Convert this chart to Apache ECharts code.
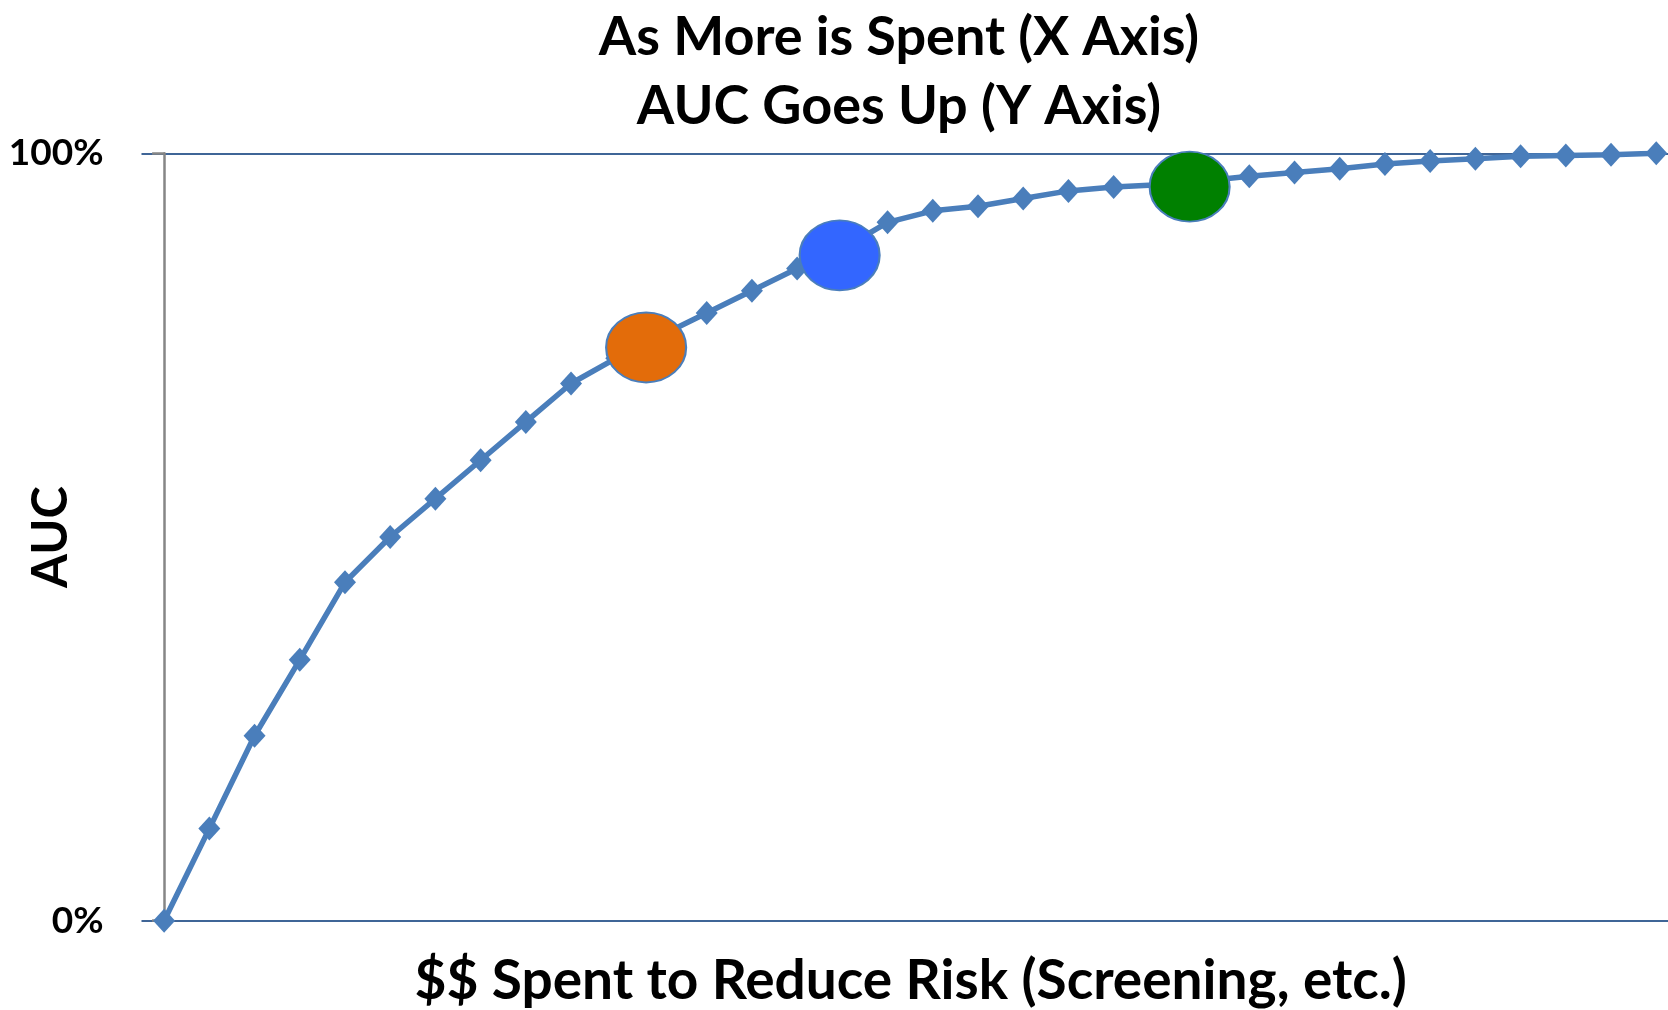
<!DOCTYPE html>
<html>
<head>
<meta charset="utf-8">
<title>AUC vs Spend</title>
<script src="https://cdn.jsdelivr.net/npm/echarts@6/dist/echarts.min.js"></script>
<style>
  html, body { margin: 0; padding: 0; background: #fff; }
  #chart { width: 1668px; height: 1010px; }
</style>
</head>
<body>
<div id="chart"></div>
<script>
// Spending steps (x) and the resulting AUC in percent (y)
const spendSteps = [0, 1, 2, 3, 4, 5, 6, 7, 8, 9, 10, 11, 12, 13, 14, 15, 16,
  17, 18, 19, 20, 21, 22, 23, 24, 25, 26, 27, 28, 29, 30, 31, 32, 33];
const aucValues = [0, 12.0, 24.1, 34.0, 44.1, 50.0, 55.0, 60.0, 65.0, 70.0,
  73.3, 76.3, 79.2, 82.1, 85.0, 87.5, 91.0, 92.5, 93.1, 94.1, 95.1, 95.6,
  95.9, 96.4, 97.0, 97.5, 98.0, 98.6, 99.0, 99.3, 99.6, 99.7, 99.8, 100];

// Highlighted spending levels: [step, AUC %]
const highlightPoints = [[10.66, 74.7], [14.94, 86.7], [22.68, 95.65]];
const highlightColors = ['#E36C0A', '#3366FF', '#008000'];

const yTicks = [0, 100];

const chart = echarts.init(document.getElementById('chart'));
const FONT = 'Lato, "Open Sans", sans-serif';

chart.setOption({
  animation: false,
  backgroundColor: '#ffffff',
  title: {
    text: 'As More is Spent (X Axis)\nAUC Goes Up (Y Axis)',
    left: 894,
    textAlign: 'center',
    top: -2,
    textStyle: {
      fontFamily: FONT,
      fontWeight: 'bold',
      fontSize: 54,
      lineHeight: 69,
      color: '#000'
    }
  },
  grid: {
    left: 141.5, right: 0, top: 153.3, bottom: 89.3,
    containLabel: false, outerBoundsMode: 'none'
  },
  xAxis: {
    type: 'value',
    min: -0.5,
    max: 33.26,
    name: '$$ Spent to Reduce Risk (Screening, etc.)',
    nameLocation: 'middle',
    nameGap: 33,
    nameMoveOverlap: false,
    nameTextStyle: {
      fontFamily: FONT, fontWeight: 'bold', fontSize: 55, color: '#000',
      padding: [0, 0, 0, 12]
    },
    axisLine: { show: false },
    axisTick: { show: false },
    axisLabel: { show: false },
    splitLine: { show: false }
  },
  yAxis: {
    type: 'value',
    min: yTicks[0],
    max: yTicks[1],
    interval: 100,
    name: 'AUC',
    nameLocation: 'middle',
    nameGap: 66,
    nameRotate: 90,
    nameMoveOverlap: false,
    nameTextStyle: { fontFamily: FONT, fontWeight: 'bold', fontSize: 49, color: '#000' },
    axisLine: { show: true, lineStyle: { color: '#868686', width: 2.5 } },
    axisTick: { show: true, inside: false, length: 12, lineStyle: { color: '#868686', width: 2.5 } },
    axisLabel: {
      margin: 38,
      fontFamily: FONT,
      fontWeight: 'bold',
      fontSize: 37,
      color: '#000',
      formatter: v => v + '%'
    },
    splitLine: { show: true, lineStyle: { color: '#3F6597', width: 2 } }
  },
  series: [
    {
      type: 'line',
      data: spendSteps.map((s, i) => [s, aucValues[i]]),
      symbol: 'diamond',
      symbolSize: [22, 24],
      showSymbol: true,
      lineStyle: { color: '#4A7EBB', width: 5.5 },
      itemStyle: { color: '#4A7EBB' },
      emphasis: { disabled: true },
      z: 2
    },
    {
      type: 'scatter',
      data: highlightPoints.map((p, i) => ({
        value: p,
        itemStyle: { color: highlightColors[i] }
      })),
      symbol: 'circle',
      symbolSize: [80, 70],
      itemStyle: { borderColor: '#4A7EBB', borderWidth: 2, opacity: 1 },
      emphasis: { disabled: true },
      z: 3
    }
  ]
});
</script>
</body>
</html>
